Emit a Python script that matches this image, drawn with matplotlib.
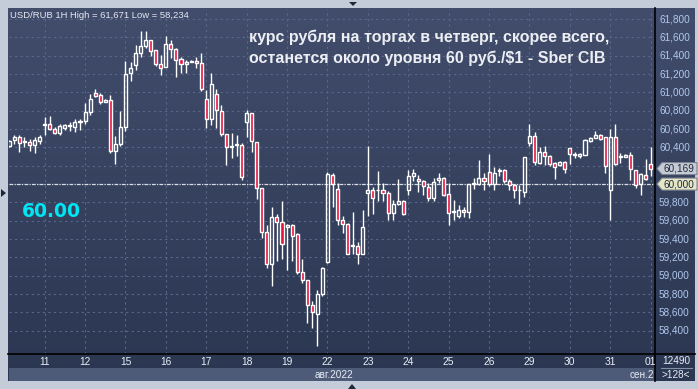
import numpy as np
import matplotlib
matplotlib.use('Agg')
import matplotlib.pyplot as plt
from matplotlib.patches import Rectangle, Polygon
from matplotlib.colors import LinearSegmentedColormap

# ── data: USD/RUB 1H candles, 10 Aug – 01 Sep 2022 ─────────────────
opens  = [60.41, 60.48, 60.51, 60.46, 60.46, 60.43, 60.47,
          60.64, 60.65, 60.60, 60.56, 60.61, 60.63, 60.62, 60.68,
          60.69, 60.79, 60.99, 60.97, 60.90, 60.92, 60.36, 60.44,
          60.62, 61.21, 61.30, 61.43, 61.51, 61.57, 61.46, 61.31,
          61.28, 61.53, 61.47, 61.36, 61.31, 61.33, 61.34, 61.32,
          60.93, 60.71, 60.98, 60.80, 60.55, 60.40, 60.43, 60.43,
          60.68, 60.77, 60.46, 59.96, 59.48, 59.13, 59.64, 59.59,
          59.53, 59.55, 59.46, 59.04, 58.95, 58.68, 58.58, 58.80,
          59.15, 60.10, 59.95, 59.61, 59.56, 59.33, 59.33, 59.24,
          59.90, 59.93, 59.93, 59.94, 59.90, 59.68, 59.78, 59.81,
          59.93, 60.09, 60.06, 60.03, 59.97, 59.85, 60.04, 60.07,
          59.89, 59.69, 59.65, 59.72, 59.69, 60.00, 60.00, 60.07,
          60.13, 60.00, 60.14, 60.15, 60.03, 59.99, 59.93, 59.91,
          60.45, 60.52, 60.23, 60.35, 60.31, 60.23, 60.21, 60.24,
          60.39, 60.32, 60.31, 60.32, 60.47, 60.50, 60.53, 60.51,
          59.94, 60.51, 60.30, 60.30, 60.32, 60.15, 60.00, 60.10,
          60.22]
highs  = [60.48, 60.54, 60.53, 60.51, 60.49, 60.51, 60.54,
          60.73, 60.74, 60.62, 60.65, 60.66, 60.68, 60.71, 60.71,
          60.88, 60.98, 61.04, 60.99, 60.93, 60.97, 60.52, 60.80,
          61.34, 61.33, 61.52, 61.671, 61.67, 61.57, 61.46, 61.41,
          61.62, 61.57, 61.48, 61.39, 61.35, 61.35, 61.39, 61.43,
          61.03, 61.21, 61.04, 60.86, 60.55, 60.56, 60.53, 60.45,
          60.81, 60.77, 60.46, 59.96, 59.55, 59.75, 59.67, 59.81,
          59.57, 59.57, 59.47, 59.18, 58.95, 58.72, 58.85, 59.10,
          60.13, 60.12, 60.01, 59.65, 59.58, 59.70, 59.37, 59.72,
          60.41, 59.97, 60.14, 60.01, 59.92, 59.83, 60.06, 59.83,
          60.15, 60.16, 60.10, 60.04, 60.01, 60.07, 60.12, 60.08,
          60.01, 59.83, 59.77, 59.75, 60.00, 60.07, 60.26, 60.12,
          60.33, 60.19, 60.17, 60.16, 60.06, 60.00, 59.99, 60.29,
          60.65, 60.57, 60.40, 60.41, 60.32, 60.24, 60.25, 60.25,
          60.39, 60.35, 60.34, 60.49, 60.51, 60.58, 60.55, 60.51,
          60.60, 60.66, 60.34, 60.33, 60.35, 60.15, 60.12, 60.27,
          60.40]
lows   = [60.40, 60.44, 60.35, 60.40, 60.36, 60.34, 60.44,
          60.54, 60.59, 60.55, 60.54, 60.59, 60.58, 60.57, 60.59,
          60.66, 60.75, 60.95, 60.87, 60.90, 60.34, 60.22, 60.42,
          60.58, 61.12, 61.24, 61.39, 61.48, 61.40, 61.29, 61.19,
          61.28, 61.38, 61.17, 61.21, 61.21, 61.33, 61.27, 61.01,
          60.61, 60.64, 60.61, 60.52, 60.21, 60.28, 60.31, 60.04,
          60.51, 60.35, 59.84, 59.41, 59.09, 58.89, 59.16, 59.18,
          59.06, 59.16, 59.02, 58.92, 58.49, 58.43, 58.234, 58.78,
          59.14, 59.75, 59.55, 59.47, 59.24, 59.24, 59.13, 59.24,
          59.65, 59.67, 59.81, 59.81, 59.61, 59.61, 59.77, 59.66,
          59.88, 60.03, 59.91, 59.88, 59.81, 59.81, 60.01, 59.87,
          59.55, 59.61, 59.63, 59.64, 59.63, 59.95, 59.99, 59.93,
          59.98, 59.93, 60.09, 60.01, 59.93, 59.85, 59.78, 59.86,
          60.41, 60.21, 60.22, 60.21, 60.20, 60.06, 60.20, 60.12,
          60.22, 60.28, 60.28, 60.32, 60.46, 60.50, 60.48, 60.12,
          59.61, 60.21, 60.23, 60.29, 60.04, 59.96, 59.88, 60.04,
          60.09]
closes = [60.47, 60.51, 60.45, 60.47, 60.43, 60.48, 60.51,
          60.65, 60.60, 60.56, 60.63, 60.64, 60.64, 60.68, 60.69,
          60.79, 60.93, 60.96, 60.89, 60.92, 60.36, 60.44, 60.62,
          61.20, 61.27, 61.43, 61.51, 61.57, 61.45, 61.31, 61.27,
          61.53, 61.47, 61.35, 61.31, 61.33, 61.34, 61.32, 61.04,
          60.71, 61.09, 60.81, 60.55, 60.40, 60.42, 60.44, 60.08,
          60.77, 60.47, 59.96, 59.48, 59.13, 59.64, 59.59, 59.35,
          59.55, 59.43, 59.04, 58.95, 58.68, 58.60, 58.80, 59.08,
          60.11, 60.00, 59.61, 59.56, 59.24, 59.34, 59.24, 59.53,
          59.93, 59.85, 59.94, 59.90, 59.68, 59.78, 59.81, 59.67,
          60.09, 60.12, 60.03, 59.98, 59.85, 60.02, 60.07, 59.88,
          59.68, 59.71, 59.72, 59.69, 60.00, 60.01, 60.07, 60.03,
          60.00, 60.12, 60.15, 60.03, 59.99, 59.93, 59.94, 60.29,
          60.52, 60.24, 60.35, 60.31, 60.22, 60.19, 60.24, 60.16,
          60.33, 60.33, 60.33, 60.48, 60.50, 60.53, 60.49, 60.20,
          60.51, 60.22, 60.31, 60.32, 60.16, 59.99, 60.11, 60.05,
          60.169]

day_labels = ['11', '12', '15', '16', '17', '18', '19', '22', '23', '24',
              '25', '26', '29', '30', '31', '01']
day_first_bar = [7, 15, 23, 31, 39, 47, 55, 63, 71, 79, 87, 95, 103, 111, 119, 127]
price_levels = [58.4, 58.6, 58.8, 59.0, 59.2, 59.4, 59.6, 59.8, 60.0,
                60.2, 60.4, 60.6, 60.8, 61.0, 61.2, 61.4, 61.6, 61.8]
last_price = 60.169
level_price = 60.0

title_txt = 'USD/RUB 1H High = 61,671 Low = 58,234'
note_lines = ['курс рубля на торгах в четверг, скорее всего,',
              'останется около уровня 60 руб./$1 - Sber CIB']

# ── layout (pixel helpers) ─────────────────────────────────────────
W, H = 698, 389
def fx(x): return x / W
def fy(y): return 1 - y / H
def py(p): return 19 + (61.8 - p) * 91.7   # price -> pixel row

BG_TOP, BG_BOT = '#414d6b', '#2b3651'
RED = '#e8103c'
GRID = '#59678a'
AXTXT = '#b0c8ee'

fig = plt.figure(figsize=(W / 100, H / 100), dpi=100, facecolor='#c3ccd8')

# dark panel with vertical gradient
bg = fig.add_axes([fx(8), fy(381), fx(695) - fx(8), fy(8) - fy(381)])
cmap = LinearSegmentedColormap.from_list('bg', [BG_BOT, BG_TOP])
bg.imshow(np.linspace(0, 1, 256).reshape(-1, 1), origin='lower', cmap=cmap,
          aspect='auto', extent=[0, 1, 0, 1])
bg.set_axis_off()

# main chart axes
ax = fig.add_axes([fx(9), fy(354), fx(655) - fx(9), fy(9) - fy(354)])
ax.set_facecolor('none')
ax.set_xlim(-0.06, 127.86)
ax.set_ylim(58.147, 61.909)
for s in ax.spines.values():
    s.set_visible(False)
ax.set_xticks([]); ax.set_yticks([])

for p in price_levels:
    ax.axhline(p, color=GRID, lw=0.8, ls=(0, (2, 3)), zorder=1)
for b in day_first_bar:
    ax.axvline(b, color=GRID, lw=0.8, ls=(0, (2, 3)), zorder=1)

ax.axhline(level_price, color='#d8dce4', lw=0.9, ls=(0, (3, 1, 1, 1)), zorder=2)

bw = 0.6
for i, (o, h, l, c) in enumerate(zip(opens, highs, lows, closes)):
    top, bot = max(o, c), min(o, c)
    ax.plot([i, i], [top, h], color='white', lw=1, zorder=3, solid_capstyle='butt')
    ax.plot([i, i], [l, bot], color='white', lw=1, zorder=3, solid_capstyle='butt')
    hgt = max(top - bot, 0.006)
    ax.add_patch(Rectangle((i - bw / 2, bot), bw, hgt,
                           facecolor=RED if c < o else 'none',
                           edgecolor='white', lw=1, zorder=4))

fig.text(fx(10), fy(16), title_txt, fontsize=6.8, color='#e4e8f0',
         family='Liberation Sans', va='center', ha='left')
for k, line in enumerate(note_lines):
    fig.text(fx(249), fy(37 + 21 * k), line, fontsize=11.5, color='#eceef4',
             family='Liberation Sans', weight='bold', va='center', ha='left')

fig.text(fx(22), fy(212), '60.00', fontsize=13.5, color='#00e6f2',
         family='DejaVu Sans', weight='bold', va='center', ha='left')

# separator lines
fig.add_artist(plt.Line2D([fx(8), fx(695)], [fy(354), fy(354)], color='black', lw=1.2))
fig.add_artist(plt.Line2D([fx(655), fx(655)], [fy(8), fy(381)], color='black', lw=1.2))

# right price axis (levels hidden behind the price boxes are skipped)
for p in price_levels:
    if abs(p - level_price) < 1e-9 or abs(p - last_price) < 0.1:
        continue
    v = int(round(p * 1000))
    fig.text(fx(659), fy(py(p)), f'{v // 1000},{v % 1000:03d}',
             fontsize=7.2, color=AXTXT, family='Liberation Sans', va='center', ha='left')

def price_box(price, face, label):
    yc = py(price)
    pts = [(657, yc), (662, yc - 6), (697, yc - 6), (697, yc + 6), (662, yc + 6)]
    fig.add_artist(Polygon([(fx(x), fy(y)) for x, y in pts], closed=True,
                           facecolor=face, edgecolor='#7c8494', lw=0.8))
    fig.text(fx(663), fy(yc), label, fontsize=7.2, color='#1c2a44',
             family='Liberation Sans', va='center', ha='left')

price_box(last_price, '#c6cad2', '60,169')
price_box(level_price, '#e6e6c4', '60,000')

# bottom date axis
fig.add_artist(Rectangle((fx(9), fy(381)), fx(655) - fx(9), fy(368) - fy(381),
                         facecolor='#4d5b78', edgecolor='none'))
for lab, b in zip(day_labels, day_first_bar):
    xp = 9 + (b + 0.06) * (646 / 127.92)
    fig.text(fx(xp), fy(362), lab, fontsize=7.4, color='#e8edf6',
             family='Liberation Sans', va='center', ha='center')
fig.text(fx(334), fy(375), 'авг.2022', fontsize=7.2, color='#e8edf6',
         family='Liberation Sans', va='center', ha='center')
fig.text(fx(654), fy(375), 'сен.2', fontsize=7.2, color='#e8edf6',
         family='Liberation Sans', va='center', ha='right')

fig.text(fx(676), fy(361), '12490', fontsize=7.2, color='#e8edf6',
         family='Liberation Sans', va='center', ha='center')
fig.add_artist(plt.Line2D([fx(661), fx(692)], [fy(368), fy(368)], color='#8090a8', lw=0.8))
fig.text(fx(676), fy(375), '>128<', fontsize=7.2, color='#e8edf6',
         family='Liberation Sans', va='center', ha='center')

# small frame markers
fig.add_artist(Polygon([(fx(349), fy(2)), (fx(357), fy(2)), (fx(353), fy(6))],
                       closed=True, facecolor='#1c2838', edgecolor='none'))
fig.add_artist(Polygon([(fx(348), fy(389)), (fx(356), fy(389)), (fx(352), fy(384))],
                       closed=True, facecolor='#1c2838', edgecolor='none'))
fig.add_artist(Polygon([(fx(1), fy(189)), (fx(1), fy(197)), (fx(6), fy(193))],
                       closed=True, facecolor='#1c2838', edgecolor='none'))

fig.savefig('out.png', dpi=100, facecolor=fig.get_facecolor())
